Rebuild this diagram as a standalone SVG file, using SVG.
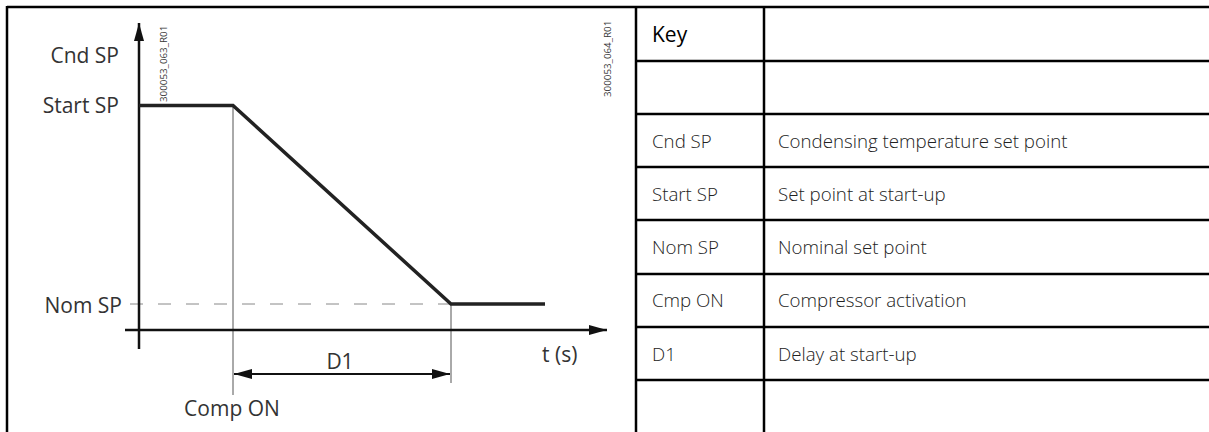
<svg xmlns="http://www.w3.org/2000/svg" width="1209" height="432" viewBox="0 0 1209 432">
<style>
.lbl{font-family:"Open Sans","Noto Sans",sans-serif;font-size:21px;fill:#333}
.cell{font-family:"Open Sans","Noto Sans",sans-serif;font-size:18.7px;font-weight:300;fill:#222}
.key{font-family:"Open Sans","Noto Sans",sans-serif;font-size:21px;font-weight:500;fill:#000}
.code{font-family:"Open Sans","Noto Sans",sans-serif;font-size:9.8px;fill:#333}
.border{stroke:#000;stroke-width:2.5;fill:none}
.axis{stroke:#111;stroke-width:2.5;fill:none}
.curve{stroke:#222;stroke-width:3.5;fill:none;stroke-linejoin:miter}
.thin{stroke:#555;stroke-width:1;fill:none}
.dash{stroke:#888;stroke-width:1;stroke-dasharray:13 15;fill:none}
</style>
<defs>
<marker id="ah" viewBox="0 0 18 10" refX="18" refY="5" markerWidth="18" markerHeight="10" markerUnits="userSpaceOnUse" orient="auto-start-reverse">
<path d="M0,0 L18,5 L0,10 Z" fill="#111"/>
</marker>
</defs>
<g id="frame">
<line class="border" x1="7" y1="7" x2="1209" y2="7"/>
<line class="border" x1="7" y1="6" x2="7" y2="432"/>
<line class="border" x1="636" y1="6" x2="636" y2="432"/>
<line class="border" x1="764" y1="6" x2="764" y2="432"/>
<line class="border" x1="636" y1="61" x2="1209" y2="61"/>
<line class="border" x1="636" y1="114" x2="1209" y2="114"/>
<line class="border" x1="636" y1="167" x2="1209" y2="167"/>
<line class="border" x1="636" y1="220" x2="1209" y2="220"/>
<line class="border" x1="636" y1="274" x2="1209" y2="274"/>
<line class="border" x1="636" y1="327" x2="1209" y2="327"/>
<line class="border" x1="636" y1="380" x2="1209" y2="380"/>
</g>
<g id="table">
<text class="key" x="652" y="42">Key</text>
<text class="cell" x="652" y="148">Cnd SP</text>
<text class="cell" x="778" y="148">Condensing temperature set point</text>
<text class="cell" x="652" y="201">Start SP</text>
<text class="cell" x="778" y="201">Set point at start-up</text>
<text class="cell" x="652" y="254">Nom SP</text>
<text class="cell" x="778" y="254">Nominal set point</text>
<text class="cell" x="652" y="307">Cmp ON</text>
<text class="cell" x="778" y="307">Compressor activation</text>
<text class="cell" x="652" y="361">D1</text>
<text class="cell" x="778" y="361">Delay at start-up</text>
</g>
<g id="connectors">
<line class="dash" x1="130" y1="304" x2="451" y2="304"/>
<line class="thin" x1="233" y1="105" x2="233" y2="395"/>
<line class="thin" x1="451" y1="304" x2="451" y2="383"/>
<line class="axis" x1="139" y1="349" x2="139" y2="23" marker-end="url(#ah)"/>
<line class="axis" x1="125" y1="330" x2="607" y2="330" marker-end="url(#ah)"/>
<polyline class="curve" points="139,105.5 233,105.5 451,304 545,304"/>
<line stroke="#111" stroke-width="2" x1="234" y1="374" x2="450" y2="374" marker-start="url(#ah)" marker-end="url(#ah)"/>
</g>
<g id="labels">
<text class="lbl" x="119" y="63" text-anchor="end">Cnd SP</text>
<text class="lbl" x="119" y="113" text-anchor="end">Start SP</text>
<text class="lbl" x="122" y="313" text-anchor="end">Nom SP</text>
<text class="lbl" x="340" y="369" text-anchor="middle">D1</text>
<text class="lbl" x="542" y="362">t (s)</text>
<text class="lbl" x="232" y="416" text-anchor="middle">Comp ON</text>
<text class="code" transform="translate(167,102) rotate(-90)">300053_063_R01</text>
<text class="code" transform="translate(611,97) rotate(-90)">300053_064_R01</text>
</g>
</svg>
